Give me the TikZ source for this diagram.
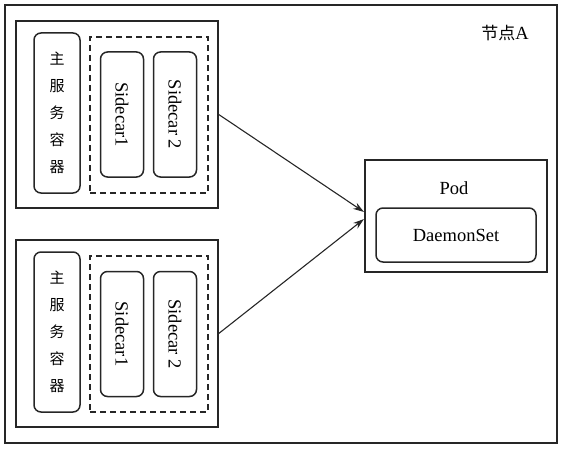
\documentclass[tikz,border=0pt]{standalone}
\usepackage{fontspec}
\setmainfont{Liberation Serif}
\newfontfamily\cjk{Noto Sans CJK SC}
\usetikzlibrary{arrows.meta}

\begin{document}
\begin{tikzpicture}[x=1pt,y=-1pt,line width=1.5pt,draw=black!85,
    font=\fontsize{18.5}{22}\selectfont,
    box/.style={rectangle, draw, inner sep=0pt},
    roundbox/.style={box, rounded corners=7pt},
    dashbox/.style={box, line width=1.2pt, dash pattern=on 6pt off 4pt},
    colbox/.style={roundbox, align=center, font=\cjk\fontsize{15}{27}\selectfont},
    sidebox/.style={roundbox, minimum width=43pt, minimum height=125pt}]
    \useasboundingbox (0,0) rectangle (564,449);

	%---NODES---
    \node[box, minimum width=552pt, minimum height=438pt] (nodeA) at (281,224) {};
    \node (nodeAlabel) at (505,33) {{\cjk\fontsize{17}{20}\selectfont 节点}A};

    \node[box, minimum width=202pt, minimum height=187pt] (host1) at (117,114.5) {};
    \node[colbox, minimum width=46pt, minimum height=160pt] (main1) at (57,113) {主\\服\\务\\容\\器};
    \node[dashbox, minimum width=118pt, minimum height=156pt] (dash1) at (149,115) {};
    \node[sidebox] (sca1) at (122,114.5) {\rotatebox{-90}{Sidecar1}};
    \node[sidebox] (scb1) at (175,114.5) {\rotatebox{-90}{Sidecar 2}};

    \node[box, minimum width=202pt, minimum height=187pt] (host2) at (117,333.5) {};
    \node[colbox, minimum width=46pt, minimum height=160pt] (main2) at (57,332) {主\\服\\务\\容\\器};
    \node[dashbox, minimum width=118pt, minimum height=156pt] (dash2) at (149,334) {};
    \node[sidebox] (sca2) at (122,334) {\rotatebox{-90}{Sidecar1}};
    \node[sidebox] (scb2) at (175,334) {\rotatebox{-90}{Sidecar 2}};

    \node[box, minimum width=182pt, minimum height=112pt] (pod) at (456,216) {};
    \node (podlabel) at (454,188) {Pod};
    \node[roundbox, minimum width=160pt, minimum height=54pt] (daemon) at (456,235) {DaemonSet};

    \coordinate (in1) at (364,212);
    \coordinate (in2) at (364,219);

	%---EDGES---
    \draw[-{Stealth[length=11pt,width=7pt]}, line width=1.1pt] (host1.east) -- (in1);
    \draw[-{Stealth[length=11pt,width=7pt]}, line width=1.1pt] (host2.east) -- (in2);
\end{tikzpicture}
\end{document}
